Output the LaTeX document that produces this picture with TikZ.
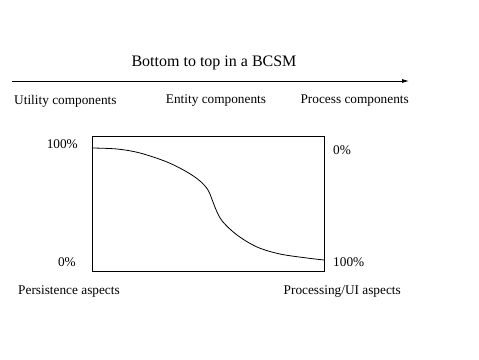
\documentclass[tikz,border=0pt]{standalone}
\usepackage{fontspec}
\setmainfont{Liberation Serif}
\usetikzlibrary{arrows.meta}
\begin{document}
\begin{tikzpicture}[x=1pt,y=-1pt,
  lbl/.style={inner sep=0pt,font=\fontsize{13.3}{15}\selectfont},
  ttl/.style={inner sep=0pt,font=\fontsize{16}{18}\selectfont},
  line/.style={line width=0.8pt}]
\useasboundingbox (0,0) rectangle (479,359);
\node[ttl] (title) at (214,63) {Bottom to top in a BCSM};
\coordinate (as) at (12,81);
\coordinate (ae) at (409,81);
\draw[line,-{Latex[length=7pt,width=4pt]}] (as) -- (ae);
\node[lbl,anchor=west] (util) at (14,101) {Utility components};
\node[lbl] (ent) at (216,101) {Entity components};
\node[lbl,anchor=east] (proc) at (409,101) {Process components};
\node[draw,line,minimum width=232pt,minimum height=135pt,inner sep=0pt,anchor=north west] (box) at (92,136) {};
\node[lbl,anchor=east] (l100) at (78,144) {100\%};
\node[lbl,anchor=west] (r0) at (333,150) {0\%};
\node[lbl,anchor=east] (l0) at (76,262) {0\%};
\node[lbl,anchor=west] (r100) at (333,262) {100\%};
\node[lbl,anchor=west] (pers) at (18,292) {Persistence aspects};
\node[lbl,anchor=east] (procui) at (401,292) {Processing/UI aspects};
\draw[line] plot[smooth,tension=0.55] coordinates {(92,148) (117,149) (140,153) (167,162) (187,172) (200,181) (208,190) (213,202) (217,212) (223,222) (237,235) (257,247) (280,254) (307,258) (324,260)};
\end{tikzpicture}
\end{document}
